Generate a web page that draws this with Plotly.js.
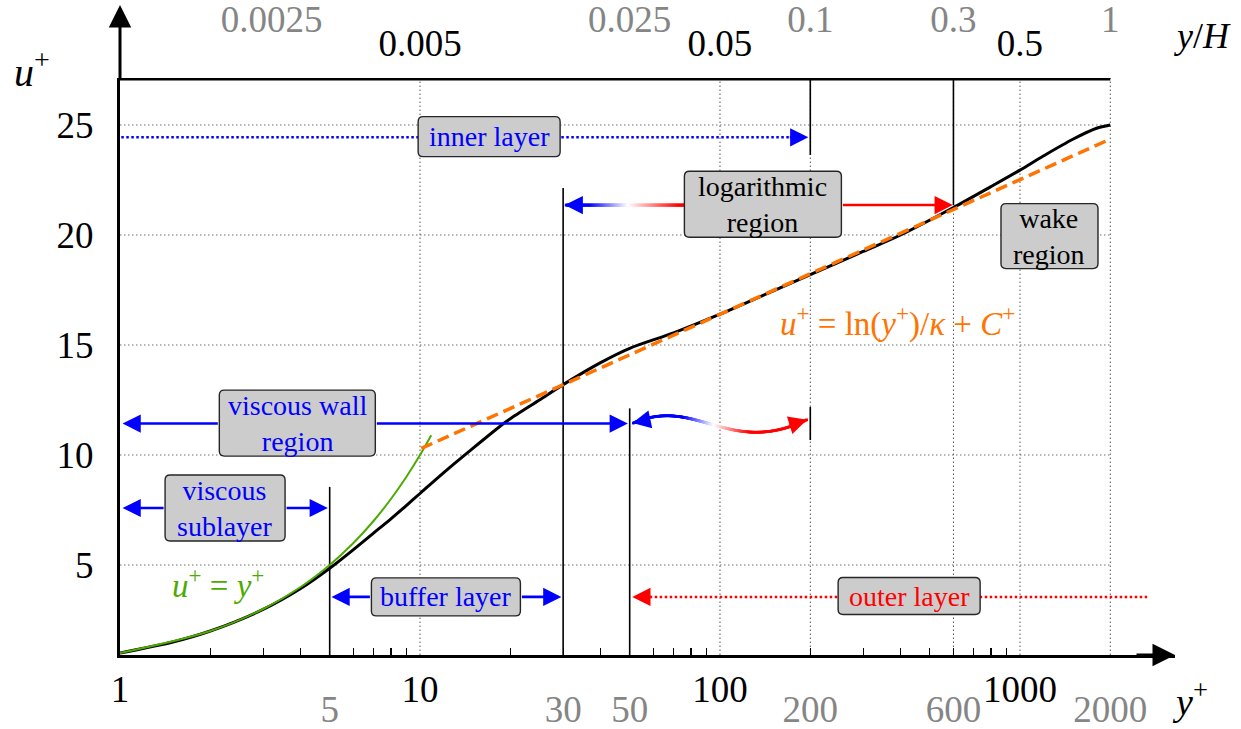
<!DOCTYPE html>
<html><head><meta charset="utf-8">
<script src="https://cdn.plot.ly/plotly-3.0.1.min.js"></script>
<style>html,body{margin:0;padding:0;background:#fff}#chart{width:1241px;height:729px}</style>
</head><body><div id="chart"></div>
<script>
// ---- data ----
const yPlus = [1, 1.5, 2, 3, 4, 5, 6, 7, 8, 9, 10, 12, 15, 19, 20, 25, 30, 40, 50, 70, 100, 150, 200, 300, 400, 600, 800, 1000, 1200, 1500, 1800, 2000];
const uPlus = [1.0, 1.5, 2.0, 2.98, 3.93, 4.85, 5.7, 6.45, 7.1, 7.7, 8.25, 9.2, 10.3, 11.43, 11.65, 12.5, 13.2, 14.2, 14.85, 15.55, 16.4, 17.45, 18.2, 19.25, 20.0, 21.25, 22.2, 22.95, 23.6, 24.35, 24.85, 25.0];
const viscY = [1, 2, 3, 4, 5, 6, 7, 8, 9, 10, 10.9];
const viscU = [1, 2, 3, 4, 5, 6, 7, 8, 9, 10, 10.9];
const logLawY = [10.1, 2000];
const logLawU = [10.3, 24.36];

const gridU = [5, 10, 15, 20, 25];
const gridYplus = [10, 100, 200, 600, 1000, 2000];
const bottomTicks = [1, 10, 100, 1000];
const bottomText = ['1', '10', '100', '1000'];
const bottomGrayTicks = [5, 30, 50, 200, 600, 2000];
const bottomGrayText = ['5', '30', '50', '200', '600', '2000'];
const topTicks = [10, 100, 1000];
const topText = ['0.005', '0.05', '0.5'];
const topGrayPos = [3.2, 50, 200, 600, 2000];
const topGrayText = ['0.0025', '0.025', '0.1', '0.3', '1'];
const minorTicks = [2,3,4,5,6,7,8,9,20,30,40,50,60,70,80,90,200,300,400,500,600,700,800,900];
const yTicks = [5, 10, 15, 20, 25];

// region boundaries (y+)
const bViscSub = 5, bLogStart = 30, bOuter = 50, bInner = 200, bLogEnd = 600, bH = 2000;

const xRange = [0, 3.5167];
const yRange = [0.909, 27.136];
const PW = 1055, PH = 577;              // plot area size in px
const pxDec = PW / (xRange[1] - xRange[0]);
const L = Math.log10;
const FONT = 'Liberation Serif, Times New Roman, serif';
const BLUE = '#0000ff', RED = '#ff0000', GREEN = '#4caa00', ORANGE = '#ff7300', GRAY = '#858585';
const TICK = 37, BOXF = 28;

// gridlines
const gx = [], gy = [];
gridU.forEach(u => { gx.push(1, bH, null); gy.push(u, u, null); });
const vx = [], vy = [];
gridYplus.forEach(x => { vx.push(x, x, null); vy.push(yRange[0], yRange[1], null); });

// solid marker lines
const mx = [bViscSub, bViscSub, null, bLogStart, bLogStart, null, bOuter, bOuter, null, bInner, bInner, null, bInner, bInner, null, bLogEnd, bLogEnd];
const my = [yRange[0], 8.55, null, yRange[0], 22.14, null, yRange[0], 12.12, null, yRange[1], 23.64, null, 12.18, 10.68, null, yRange[1], 21.36];

function lerp(c1, c2, f) {
  f = Math.max(0, Math.min(1, f));
  return 'rgb(' + c1.map((v, i) => Math.round(v + (c2[i] - v) * f)).join(',') + ')';
}
const cB = [0,0,255], cW = [255,255,255], cR = [255,0,0];
function bwr(f, a, b, c) {
  if (f < a) return lerp(cB, cB, 0);
  if (f < b) return lerp(cB, cW, (f - a) / (b - a));
  if (f < c) return lerp(cW, cR, (f - b) / (c - b));
  return lerp(cR, cR, 0);
}

// boxes: [centre y+, centre u+, text, colour, width px, height px]
const boxes = [
  [17.0, 24.47, 'inner layer', BLUE, 142, 40],
  [139, 21.4, 'logarithmic<br>region', 'black', 157, 66],
  [1254, 19.95, 'wake<br>region', 'black', 97, 65],
  [3.9, 11.45, 'viscous wall<br>region', BLUE, 156, 66],
  [2.24, 7.59, 'viscous<br>sublayer', BLUE, 120, 66],
  [12.2, 3.55, 'buffer layer', BLUE, 149, 38],
  [427, 3.59, 'outer layer', RED, 142, 37]
];
const leftEdge = b => Math.pow(10, L(b[0]) - b[4] / 2 / pxDec);
const rightEdge = b => Math.pow(10, L(b[0]) + b[4] / 2 / pxDec);
const [bInnerBox, bLogBox, bWake, bWall, bSub, bBuf, bOut] = boxes;

// gradient arrow in the log region (from y+=30 to the box)
const g1x = [], g1y = [], g1c = [];
{
  const xs = L(bLogStart) + 0.01, xe = L(leftEdge(bLogBox));
  for (let i = 0; i <= 240; i++) {
    const lx = xs + (xe - xs) * i / 240;
    g1x.push(Math.pow(10, lx)); g1y.push(21.36);
    g1c.push(bwr(lx, 1.567, 1.695, 1.867));
  }
}
// curved gradient arrow from y+=50 to y+=200
const g2x = [], g2y = [], g2c = [];
{
  const P = [[L(bOuter) + 0.012, 11.45], [1.92, 12.7], [2.03, 9.9], [L(bInner) - 0.012, 11.6]];
  for (let i = 0; i <= 300; i++) {
    const t = i / 300, s = 1 - t;
    const bx = s*s*s*P[0][0] + 3*s*s*t*P[1][0] + 3*s*t*t*P[2][0] + t*t*t*P[3][0];
    const by = s*s*s*P[0][1] + 3*s*s*t*P[1][1] + 3*s*t*t*P[2][1] + t*t*t*P[3][1];
    g2x.push(Math.pow(10, bx)); g2y.push(by);
    g2c.push(bwr(t, 0.3, 0.5, 0.72));
  }
}

const traces = [
  {x: gx, y: gy, mode: 'lines', line: {color: '#707070', width: 1, dash: '1.5px,2.5px'}, hoverinfo: 'skip'},
  {x: vx, y: vy, mode: 'lines', line: {color: '#555', width: 1, dash: '1.5px,2.5px'}, hoverinfo: 'skip'},
  {x: [1, bH], y: [yRange[1], yRange[1]], mode: 'lines', line: {color: 'black', width: 5}, hoverinfo: 'skip'},
  {x: mx, y: my, mode: 'lines', line: {color: 'black', width: 1.6}, hoverinfo: 'skip'},
  {x: [1.01, 190], y: [24.44, 24.44], mode: 'lines', line: {color: BLUE, width: 2.5, dash: '2.5px,2.5px'}, hoverinfo: 'skip'},
  {x: [54, 2671], y: [3.55, 3.55], mode: 'lines', line: {color: RED, width: 2.5, dash: '2.5px,2.5px'}, hoverinfo: 'skip'},
  {x: g1x, y: g1y, mode: 'markers', marker: {size: 2.6, symbol: 'square', color: g1c, line: {width: 0}}, hoverinfo: 'skip'},
  {x: g2x, y: g2y, mode: 'markers', marker: {size: 2.6, symbol: 'square', color: g2c, line: {width: 0}}, hoverinfo: 'skip'},
  {x: yPlus, y: uPlus, mode: 'lines', line: {color: 'black', width: 3, shape: 'spline', smoothing: 0.8}, name: 'DNS'},
  {x: viscY, y: viscU, mode: 'lines', line: {color: GREEN, width: 2, shape: 'spline'}, name: 'u+=y+'},
  {x: logLawY, y: logLawU, mode: 'lines', line: {color: ORANGE, width: 3.5, dash: '12px,6px'}, name: 'log law'},
  {x: [1], y: [yRange[0]], xaxis: 'x2', mode: 'markers', marker: {opacity: 0}, hoverinfo: 'skip'},
  {x: [1], y: [yRange[0]], xaxis: 'x3', mode: 'markers', marker: {opacity: 0}, hoverinfo: 'skip'},
  {x: [1], y: [yRange[0]], xaxis: 'x4', mode: 'markers', marker: {opacity: 0}, hoverinfo: 'skip'}
];

function arrow(xTip, yTip, xTail, yTail, color) {
  return {xref: 'x', yref: 'y', axref: 'x', ayref: 'y', x: L(xTip), y: yTip, ax: L(xTail), ay: yTail,
    text: '', showarrow: true, arrowhead: 2, arrowsize: 1.4, arrowwidth: 2.6, arrowcolor: color, standoff: 0};
}
function head(xTip, yTip, dx, dy, color) {
  return {xref: 'x', yref: 'y', x: L(xTip), y: yTip, ax: dx, ay: dy,
    text: '', showarrow: true, arrowhead: 2, arrowsize: 1.4, arrowwidth: 2.6, arrowcolor: color, standoff: 0};
}
function label(xr, yr, x, y, text, size, color) {
  return {xref: xr, yref: yr, x: x, y: y, text: text, showarrow: false, xanchor: 'center', yanchor: 'middle',
    font: {family: FONT, size: size, color: color}};
}
// rounded box outlines as paper-referenced path shapes
function roundBox(b) {
  const cx = (L(b[0]) - xRange[0]) / (xRange[1] - xRange[0]);
  const cy = (b[1] - yRange[0]) / (yRange[1] - yRange[0]);
  const hw = b[4] / 2 / PW, hh = b[5] / 2 / PH, rx = 5 / PW, ry = 5 / PH;
  const x0 = cx - hw, x1 = cx + hw, y0 = cy - hh, y1 = cy + hh;
  const path = `M ${x0 + rx},${y0} L ${x1 - rx},${y0} Q ${x1},${y0} ${x1},${y0 + ry} L ${x1},${y1 - ry} Q ${x1},${y1} ${x1 - rx},${y1} ` +
    `L ${x0 + rx},${y1} Q ${x0},${y1} ${x0},${y1 - ry} L ${x0},${y0 + ry} Q ${x0},${y0} ${x0 + rx},${y0} Z`;
  return {type: 'path', xref: 'paper', yref: 'paper', path: path, fillcolor: '#cccccc',
    line: {color: '#262626', width: 1.4}, layer: 'above'};
}

const annotations = [
  arrow(1.02, 7.59, leftEdge(bSub), 7.59, BLUE), arrow(4.93, 7.59, rightEdge(bSub), 7.59, BLUE),
  arrow(1.02, 11.43, leftEdge(bWall), 11.43, BLUE), arrow(49.3, 11.43, rightEdge(bWall), 11.43, BLUE),
  arrow(5.07, 3.55, leftEdge(bBuf), 3.55, BLUE), arrow(29.6, 3.55, rightEdge(bBuf), 3.55, BLUE),
  arrow(597, 21.36, rightEdge(bLogBox), 21.36, RED),
  head(bLogStart * 1.012, 21.36, 20, 0, BLUE),
  head(bInner * 0.985, 24.44, -20, 0, BLUE),
  head(bOuter * 1.02, 3.55, 20, 0, RED),
  head(bOuter * 1.022, 11.45, 19, -4, BLUE),
  head(bInner * 0.975, 11.6, -19, 6, RED),

  ...boxes.map(b => label('x', 'y', L(b[0]), b[1], b[2], BOXF, b[3])),

  label('x', 'y', L(2.12), 4.18, '<i>u</i><sup>+</sup> = <i>y</i><sup>+</sup>', 33, GREEN),
  label('x', 'y', L(392), 16.05, '<i>u</i><sup>+</sup> = ln(<i>y</i><sup>+</sup>)/<i>κ</i> + <i>C</i><sup>+</sup>', 33, ORANGE),

  label('paper', 'paper', -0.0834, 1.0139, '<i>u</i><sup>+</sup>', 40, 'black'),
  label('paper', 'paper', 1.0142, -0.077, '<i>y</i><sup>+</sup>', 38, 'black'),
  label('paper', 'paper', 1.0265, 1.0728, '<i>y</i>/<i>H</i>', 36, 'black'),
  {xref: 'paper', yref: 'paper', x: 0, y: 1.1265, ax: 0, ay: 76, text: '', showarrow: true,
    arrowhead: 2, arrowsize: 1.5, arrowwidth: 3, arrowcolor: 'black', standoff: 0},
  {xref: 'paper', yref: 'paper', x: 1, y: 0, ax: -40, ay: 0, text: '', showarrow: true,
    arrowhead: 2, arrowsize: 1.5, arrowwidth: 3, arrowcolor: 'black', standoff: 0}
];

const baseX = {type: 'log', range: xRange, showgrid: false, zeroline: false, ticks: '', fixedrange: true};
const layout = {
  width: 1241, height: 729,
  margin: {l: 120, r: 66, t: 78, b: 74, pad: 0},
  paper_bgcolor: 'white', plot_bgcolor: 'white',
  showlegend: false,
  font: {family: FONT, color: 'black'},
  xaxis: Object.assign({}, baseX, {
    showline: true, linewidth: 3, linecolor: 'black',
    tickmode: 'array', tickvals: bottomTicks, ticktext: bottomText,
    tickfont: {family: FONT, size: TICK, color: 'black'}, ticklabelstandoff: 0,
    minor: {tickmode: 'array', tickvals: minorTicks, ticks: 'inside', ticklen: 7, tickwidth: 1.2, tickcolor: 'black', showgrid: false}
  }),
  xaxis2: Object.assign({}, baseX, {overlaying: 'x', anchor: 'y', side: 'bottom', showline: false,
    tickmode: 'array', tickvals: bottomGrayTicks, ticktext: bottomGrayText,
    tickfont: {family: FONT, size: TICK, color: GRAY}, ticklabelstandoff: 29}),
  xaxis3: Object.assign({}, baseX, {overlaying: 'x', anchor: 'y', side: 'top', showline: false,
    tickmode: 'array', tickvals: topTicks, ticktext: topText,
    tickfont: {family: FONT, size: TICK, color: 'black'}, ticklabelstandoff: 14}),
  xaxis4: Object.assign({}, baseX, {overlaying: 'x', anchor: 'y', side: 'top', showline: false,
    tickmode: 'array', tickvals: topGrayPos, ticktext: topGrayText,
    tickfont: {family: FONT, size: TICK, color: GRAY}, ticklabelstandoff: 38}),
  yaxis: {range: yRange, showline: true, linewidth: 3, linecolor: 'black', showgrid: false, zeroline: false,
    tickmode: 'array', tickvals: yTicks, ticks: '', tickfont: {family: FONT, size: TICK, color: 'black'},
    ticklabelstandoff: 16, fixedrange: true},
  shapes: boxes.map(roundBox),
  annotations: annotations
};

Plotly.newPlot('chart', traces, layout, {staticPlot: true, displayModeBar: false});
</script></body></html>
